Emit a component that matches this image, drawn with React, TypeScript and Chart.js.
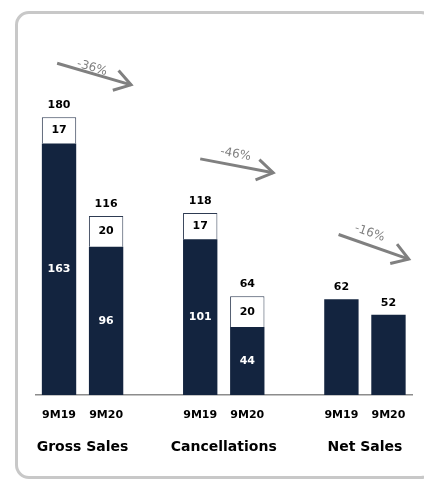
import React, { useEffect, useRef } from "react";
import { Chart, registerables } from "chart.js";

Chart.register(...registerables);

const categories = ["9M19", "9M20", "", "9M19", "9M20", "", "9M19", "9M20"];
const groupNames = ["Gross Sales", "Cancellations", "Net Sales"];
const groupIndexes = [[0, 1], [3, 4], [6, 7]];
const baseValues = [163, 96, null, 101, 44, null, 62, 52];
const topValues = [17, 20, null, 17, 20, null, null, null];
const totals = [180, 116, null, 118, 64, null, 62, 52];
const changeLabels = ["-36%", "-46%", "-16%"];
// arrows in data space: [xIndexStart, valueStart, xIndexEnd, valueEnd]
const arrowsData = [
  [-0.04, 215, 1.53, 201],
  [3.0, 153, 4.55, 144],
  [5.94, 104, 7.43, 88],
];
// label anchors in data space: [xIndex, value]
const changeLabelPos = [
  [0.70, 212],
  [3.75, 156],
  [6.6, 105],
];

const NAVY = "#13243f";
const FONT = "'DejaVu Sans', Verdana, sans-serif";

const overlayPlugin = {
  id: "overlay",
  afterDatasetsDraw(chart: any) {
    const ctx = chart.ctx;
    const xs = chart.scales.x;
    const ys = chart.scales.y;
    const m0 = chart.getDatasetMeta(0);
    const m1 = chart.getDatasetMeta(1);
    ctx.save();
    ctx.textAlign = "center";
    ctx.textBaseline = "middle";
    ctx.font = `bold 11px ${FONT}`;
    for (let i = 0; i < categories.length; i++) {
      const b0: any = m0.data[i];
      if (baseValues[i] != null && b0) {
        ctx.fillStyle = "#ffffff";
        if (topValues[i] != null) {
          ctx.fillText(String(baseValues[i]), b0.x, (b0.y + b0.base) / 2);
        }
      }
      const b1: any = m1.data[i];
      if (topValues[i] != null && b1) {
        ctx.fillStyle = "#000000";
        ctx.fillText(String(topValues[i]), b1.x, (b1.y + b1.base) / 2);
      }
      if (totals[i] != null) {
        ctx.fillStyle = "#000000";
        const topY = ys.getPixelForValue(totals[i] as number);
        ctx.fillText(String(totals[i]), xs.getPixelForValue(i), topY - 12);
      }
    }
    // group labels
    ctx.font = `bold 14px ${FONT}`;
    ctx.fillStyle = "#000000";
    groupNames.forEach((g, k) => {
      const [a, b] = groupIndexes[k];
      const cx = (xs.getPixelForValue(a) + xs.getPixelForValue(b)) / 2;
      ctx.fillText(g, cx, 447);
    });
    // arrows
    ctx.strokeStyle = "#808080";
    ctx.lineWidth = 3;
    ctx.lineCap = "butt";
    arrowsData.forEach((a, k) => {
      const x1 = xs.getPixelForValue(a[0]);
      const y1 = ys.getPixelForValue(a[1]);
      const x2 = xs.getPixelForValue(a[2]);
      const y2 = ys.getPixelForValue(a[3]);
      const ang = Math.atan2(y2 - y1, x2 - x1);
      ctx.beginPath();
      ctx.moveTo(x1, y1);
      ctx.lineTo(x2, y2);
      ctx.stroke();
      const L = 19;
      const h = Math.PI / 5.5;
      ctx.beginPath();
      ctx.moveTo(x2 - L * Math.cos(ang - h), y2 - L * Math.sin(ang - h));
      ctx.lineTo(x2, y2);
      ctx.lineTo(x2 - L * Math.cos(ang + h), y2 - L * Math.sin(ang + h));
      ctx.stroke();
      const p = changeLabelPos[k];
      const lx = xs.getPixelForValue(p[0]);
      const ly = ys.getPixelForValue(p[1]);
      ctx.save();
      ctx.translate(lx, ly);
      ctx.rotate(ang);
      ctx.font = `12px ${FONT}`;
      ctx.fillStyle = "#7f7f7f";
      ctx.fillText(changeLabels[k], 0, 0);
      ctx.restore();
    });
    ctx.restore();
  },
};

export default function App() {
  const ref = useRef<HTMLCanvasElement | null>(null);
  useEffect(() => {
    if (!ref.current) return;
    const chart = new Chart(ref.current, {
      type: "bar",
      data: {
        labels: categories,
        datasets: [
          {
            data: baseValues as any,
            backgroundColor: NAVY,
            borderWidth: 0,
            barPercentage: 0.73,
            categoryPercentage: 1,
          },
          {
            data: topValues as any,
            backgroundColor: "#ffffff",
            borderColor: "#2e3b52",
            borderWidth: 1,
            barPercentage: 0.73,
            categoryPercentage: 1,
          },
        ],
      },
      options: {
        responsive: false,
        animation: false,
        layout: { padding: { left: 35.5, right: 12, top: 20, bottom: 0 } },
        plugins: { legend: { display: false }, tooltip: { enabled: false } },
        scales: {
          x: {
            stacked: true,
            grid: { display: false },
            border: { display: true, color: "#8c8c8c", width: 1.5 },
            ticks: {
              color: "#000000",
              font: { family: FONT, size: 11, weight: "bold" },
              padding: 6,
              maxRotation: 0,
              autoSkip: false,
            },
            afterFit: (s: any) => {
              s.height = 85;
            },
          },
          y: {
            stacked: true,
            display: false,
            min: 0,
            max: 243,
          },
        },
      },
      plugins: [overlayPlugin],
    });
    return () => chart.destroy();
  }, []);
  return (
    <div style={{ position: "absolute", left: 0, top: 0, width: 424, height: 480, overflow: "hidden", background: "#fff" }}>
      <div
        style={{
          position: "absolute",
          left: 15,
          top: 11,
          width: 420,
          height: 468,
          border: "3px solid #c8c8c8",
          borderRadius: 14,
          boxSizing: "border-box",
        }}
      />
      <canvas ref={ref} width={424} height={480} style={{ position: "absolute", left: 0, top: 0 }} />
    </div>
  );
}
